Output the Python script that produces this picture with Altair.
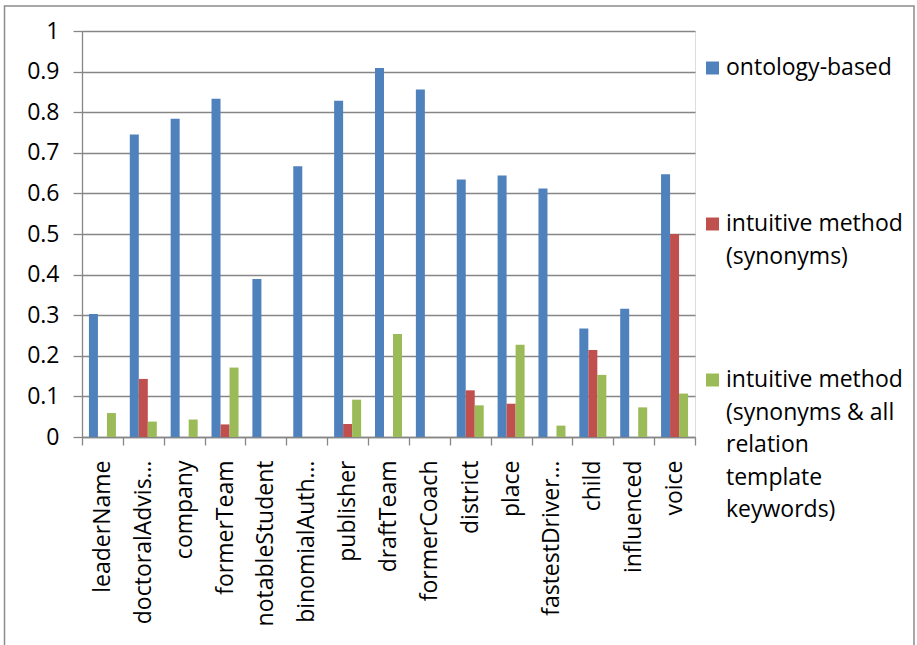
import altair as alt
import pandas as pd

# Relation names as shown on the category axis
relations = ["leaderName", "doctoralAdvis…", "company", "formerTeam", "notableStudent",
             "binomialAuth…", "publisher", "draftTeam", "formerCoach", "district",
             "place", "fastestDriver…", "child", "influenced", "voice"]

series = ["ontology-based",
          "intuitive method (synonyms)",
          "intuitive method (synonyms & all relation template keywords)"]
legend_labels = ["ontology-based",
                 "intuitive method\n(synonyms)",
                 "intuitive method\n(synonyms & all\nrelation\ntemplate\nkeywords)"]
colors = ["#4F81BD", "#C0504D", "#9BBB59"]

ontology = [0.303, 0.745, 0.784, 0.833, 0.389, 0.667, 0.828, 0.909, 0.856, 0.634,
            0.644, 0.612, 0.267, 0.316, 0.647]
synonyms = [None, 0.143, None, 0.031, None, None, 0.032, None, None, 0.115,
            0.082, None, 0.214, None, 0.500]
keywords = [0.059, 0.038, 0.043, 0.171, None, None, 0.092, 0.254, None, 0.078,
            0.227, 0.028, 0.153, 0.073, 0.107]

y_ticks = [0, 0.1, 0.2, 0.3, 0.4, 0.5, 0.6, 0.7, 0.8, 0.9, 1]

rows = []
for name, values in zip(series, [ontology, synonyms, keywords]):
    for rel, v in zip(relations, values):
        if v is not None:
            rows.append({"relation": rel, "series": name, "value": v})
df = pd.DataFrame(rows)
legend_df = pd.DataFrame({"series": series, "label": legend_labels})

FONT = "Open Sans"
GRAY = "#868686"

color = alt.Color("series:N", scale=alt.Scale(domain=series, range=colors), legend=None)

bars = alt.Chart(df).mark_bar().encode(
    x=alt.X("relation:N", sort=relations,
            scale=alt.Scale(paddingInner=0, paddingOuter=0),
            axis=alt.Axis(title=None, labelAngle=-90, labelAlign="right", labelBaseline="middle",
                          labelFontSize=23, labelFont=FONT, labelColor="black",
                          labelPadding=15, labelLimit=400, tickBand="extent",
                          tickSize=8, tickColor=GRAY, tickWidth=1.3,
                          domainColor=GRAY, domainWidth=1.3, grid=False)),
    xOffset=alt.XOffset("series:N", sort=series,
                        scale=alt.Scale(paddingInner=0, paddingOuter=0.77)),
    y=alt.Y("value:Q", scale=alt.Scale(domain=[0, 1], nice=False),
            axis=alt.Axis(title=None, values=y_ticks, format="~g",
                          labelFontSize=23, labelFont=FONT, labelColor="black",
                          labelPadding=14, tickSize=9, tickColor=GRAY, tickWidth=1.3,
                          domainColor=GRAY, domainWidth=1.3,
                          gridColor=GRAY, gridWidth=1.3)),
    color=color,
)

leg_y = alt.Y("series:N", sort=series,
              scale=alt.Scale(domain=series, range=[37, 349], padding=0), axis=None)

legend_marks = alt.Chart(legend_df).mark_square(size=169, opacity=1).encode(
    x=alt.value(630.5), y=leg_y, color=color)

legend_text = alt.Chart(legend_df).mark_text(
    align="left", baseline="top", dy=-11, fontSize=23, lineHeight=32.5,
    lineBreak="\n", font=FONT, color="black"
).encode(x=alt.value(644), y=leg_y, text="label:N")

frame = alt.Chart(alt.Data(values=[{}])).mark_rect(
    fill="transparent", stroke="#8c8c8c", strokeWidth=1.5
).encode(x=alt.value(-77.5), x2=alt.value(832), y=alt.value(-25), y2=alt.value(630))

chart = alt.layer(frame, bars, legend_marks, legend_text).resolve_scale(
    y="independent"
).properties(
    width=613, height=406,
    autosize=alt.AutoSizeParams(type="none"),
    padding={"left": 82, "top": 31, "right": 222, "bottom": 208},
    background="white",
).configure_view(stroke=None).configure(font=FONT)

chart.save("out.html", embed_options={"renderer": "svg", "actions": False})
